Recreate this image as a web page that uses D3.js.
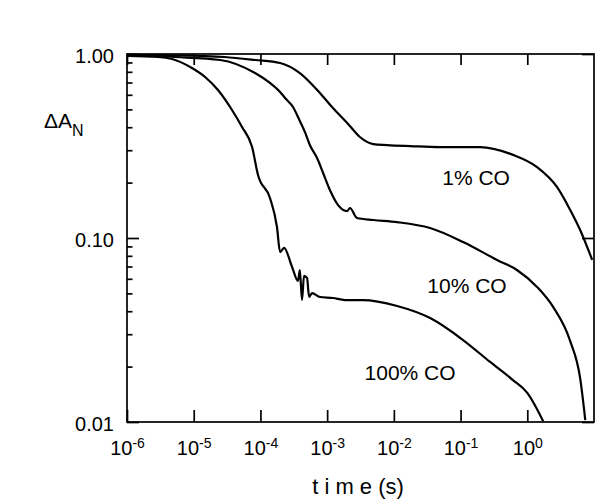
<!DOCTYPE html>
<html>
<head>
<meta charset="utf-8">
<script src="https://cdn.jsdelivr.net/npm/d3@7"></script>
<style>
  body { margin: 0; background: #fff; }
  svg { font-family: Arial, "Liberation Sans", Helvetica, sans-serif; }
</style>
</head>
<body>
<div id="chart"></div>
<script>
// time (s) and normalised absorbance change
var t1 = [1e-6, 3.1e-6, 1.24e-5, 2.9e-5, 8.3e-5, 1.97e-4, 3.9e-4, 7.8e-4, 1.22e-3, 2.0e-3, 3.1e-3, 4.9e-3, 7.9e-3, 0.0175, 0.049, 0.196, 0.61, 1.4, 2.8, 4.4, 6.2, 9.4],
  a1 = [0.988, 0.985, 0.975, 0.963, 0.928, 0.894, 0.788, 0.614, 0.509, 0.422, 0.354, 0.324, 0.320, 0.316, 0.312, 0.312, 0.283, 0.243, 0.189, 0.142, 0.1105, 0.076];

var t10 = [1e-6, 5.2e-6, 2.5e-5, 8.3e-5, 1.39e-4, 1.97e-4, 2.34e-4, 3.08e-4, 3.9e-4, 4.67e-4, 5.55e-4, 7.06e-4, 8.7e-4, 1.10e-3, 1.46e-3, 2.0e-3, 2.2e-3, 2.8e-3, 4.9e-3, 0.0112, 0.035, 0.109, 0.352, 0.70, 1.4, 2.44, 4.4, 6.2, 7.4],
  a10 = [0.988, 0.963, 0.928, 0.788, 0.696, 0.622, 0.577, 0.515, 0.432, 0.375, 0.318, 0.272, 0.2256, 0.1824, 0.151, 0.140, 0.1456, 0.1284, 0.1253, 0.122, 0.1133, 0.0951, 0.0760, 0.067, 0.0542, 0.0422, 0.0275, 0.0173, 0.01025];

var t100 = [1e-6, 2.92e-6, 4.73e-6, 9.4e-6, 1.48e-5, 2.31e-5, 3.75e-5, 5.3e-5, 7.5e-5, 9.2e-5, 1.39e-4, 1.77e-4, 1.97e-4, 2.26e-4, 2.98e-4, 3.66e-4, 3.9e-4, 4.2e-4, 4.5e-4, 5.0e-4, 5.36e-4, 5.94e-4, 7.8e-4, 1.22e-3, 1.85e-3, 3.45e-3, 0.0112, 0.035, 0.109, 0.277, 0.61, 1.0, 1.73],
  a100 = [0.975, 0.963, 0.939, 0.839, 0.75, 0.637, 0.496, 0.401, 0.312, 0.22, 0.165, 0.1148, 0.0839, 0.0883, 0.0696, 0.0584, 0.067, 0.046, 0.0622, 0.0606, 0.0478, 0.0502, 0.0478, 0.0472, 0.046, 0.046, 0.0427, 0.0367, 0.0279, 0.0212, 0.0169, 0.0144, 0.0101];

var seriesLabels = ["1% CO", "10% CO", "100% CO"];
var labelAt = [[0.171, 0.194], [0.125, 0.0502], [0.0175, 0.0169]];

var xTicks = [1e-6, 1e-5, 1e-4, 1e-3, 1e-2, 1e-1, 1e0];
var xTickExp = ["-6", "-5", "-4", "-3", "-2", "-1", "0"];
var yTicks = [0.01, 0.1, 1];
var yTickLabels = ["0.01", "0.10", "1.00"];
var yMinor = [0.02, 0.03, 0.04, 0.05, 0.06, 0.07, 0.08, 0.09, 0.2, 0.3, 0.4, 0.5, 0.6, 0.7, 0.8, 0.9];

var w = 600, h = 502,
  pLeft = 127, pRight = 594, pTop = 54, pBottom = 422;

var x = d3.scaleLog().domain([1e-6, 10]).range([pLeft, pRight]),
  y = d3.scaleLog().domain([0.01, 1]).range([pBottom, pTop]);

var svg = d3.select("#chart").append("svg")
  .attr("width", w)
  .attr("height", h);

svg.append("clipPath").attr("id", "clip")
  .append("rect")
  .attr("x", pLeft).attr("y", pTop)
  .attr("width", pRight - pLeft).attr("height", pBottom - pTop);

var line = d3.line()
  .x(function(d) { return x(d[0]); })
  .y(function(d) { return y(d[1]); })
  .curve(d3.curveMonotoneX);

var series = [[t1, a1], [t10, a10], [t100, a100]];

svg.append("g").attr("clip-path", "url(#clip)")
  .selectAll("path")
  .data(series)
  .enter().append("path")
  .attr("d", function(s) { return line(d3.zip(s[0], s[1])); })
  .attr("fill", "none")
  .attr("stroke", "#000")
  .attr("stroke-width", 2.2)
  .attr("stroke-linejoin", "round");

// frame
svg.append("rect")
  .attr("x", pLeft).attr("y", pTop)
  .attr("width", pRight - pLeft).attr("height", pBottom - pTop)
  .attr("fill", "none").attr("stroke", "#000").attr("stroke-width", 1.7);

// bottom axis
var xAxis = d3.axisBottom(x).tickValues(xTicks).tickSizeInner(-12).tickSizeOuter(0).tickPadding(0);
var gx = svg.append("g").attr("transform", "translate(0," + pBottom + ")").call(xAxis);
gx.selectAll(".tick text").each(function(d, i) {
  var txt = d3.select(this).text(null).attr("y", 33).attr("dy", null)
    .attr("font-size", 20).attr("fill", "#000");
  txt.append("tspan").text("10");
  txt.append("tspan").attr("font-size", 14).attr("dy", -7).text(xTickExp[i]);
});

// top axis
svg.append("g").attr("transform", "translate(0," + pTop + ")")
  .call(d3.axisTop(x).tickValues(xTicks).tickSizeInner(-11).tickSizeOuter(0).tickFormat(""));

// left axis
var gy = svg.append("g").attr("transform", "translate(" + pLeft + ",0)")
  .call(d3.axisLeft(y).tickValues(yTicks).tickSizeInner(-12).tickSizeOuter(0).tickPadding(13)
    .tickFormat(function(d, i) { return yTickLabels[i]; }));
gy.selectAll(".tick text").attr("dy", 8).attr("font-size", 20).attr("fill", "#000");

svg.append("g").attr("transform", "translate(" + pLeft + ",0)")
  .call(d3.axisLeft(y).tickValues(yMinor).tickSizeInner(-5.5).tickSizeOuter(0).tickFormat(""));

// right axis
svg.append("g").attr("transform", "translate(" + pRight + ",0)")
  .call(d3.axisRight(y).tickValues(yTicks).tickSizeInner(-12).tickSizeOuter(0).tickFormat(""));

svg.selectAll(".domain").remove();
svg.selectAll(".tick line").attr("stroke", "#000").attr("stroke-width", 1.7);

// series labels
svg.selectAll(".slabel")
  .data(seriesLabels)
  .enter().append("text")
  .attr("class", "slabel")
  .attr("x", function(d, i) { return x(labelAt[i][0]); })
  .attr("y", function(d, i) { return y(labelAt[i][1]); })
  .attr("text-anchor", "middle")
  .attr("font-size", 21)
  .text(function(d) { return d; });

// y title
var yt = svg.append("text").attr("x", 44).attr("y", 128).attr("font-size", 21);
yt.append("tspan").text("\u0394A");
yt.append("tspan").attr("font-size", 16).attr("dy", 8).text("N");

// x title
svg.append("text")
  .attr("x", 358).attr("y", 494)
  .attr("text-anchor", "middle")
  .attr("font-size", 22)
  .text("t i m e (s)");
</script>
</body>
</html>
